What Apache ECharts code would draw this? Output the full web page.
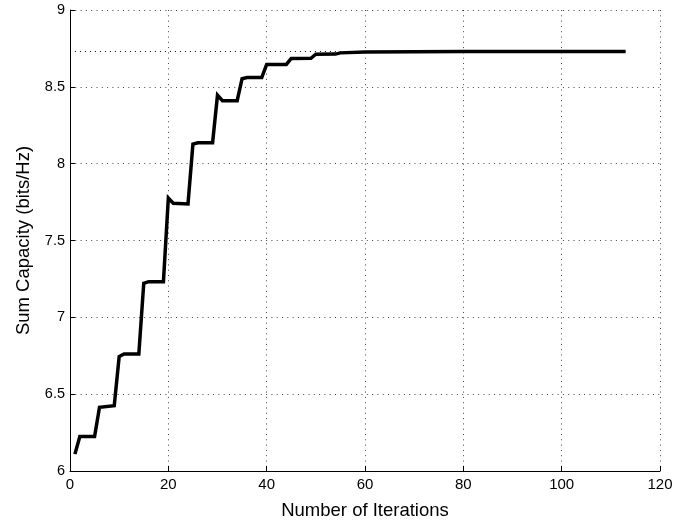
<!DOCTYPE html>
<html>
<head>
<meta charset="utf-8">
<script src="https://cdn.jsdelivr.net/npm/echarts@6/dist/echarts.min.js"></script>
<style>html,body{margin:0;padding:0;background:#fff;}#c{width:687px;height:525px;}</style>
</head>
<body>
<div id="c"></div>
<script>
var iterations = [1, 2, 5, 6, 9, 10, 11, 14, 15, 16, 19, 20, 21, 24, 25, 26, 29, 30, 31, 34, 35, 36, 39, 40, 44, 45, 49, 50, 54, 55, 60, 70, 80, 113];
var capacity = [6.11, 6.225, 6.225, 6.415, 6.425, 6.745, 6.762, 6.762, 7.222, 7.232, 7.232, 7.776, 7.742, 7.738, 8.127, 8.136, 8.136, 8.446, 8.41, 8.41, 8.553, 8.56, 8.56, 8.646, 8.646, 8.685, 8.686, 8.712, 8.713, 8.721, 8.726, 8.729, 8.73, 8.73];
var optimumX = [1, 113];
var optimumY = [8.73, 8.73];
var xTicks = [0, 20, 40, 60, 80, 100, 120];
var yTicks = [6, 6.5, 7, 7.5, 8, 8.5, 9];

var font = 'Liberation Sans, Arial, sans-serif';
var gridStyle = { show: true, lineStyle: { color: '#444', width: 1, type: [1, 4.3] } };

var chart = echarts.init(document.getElementById('c'), null, { renderer: 'canvas' });
chart.setOption({
  animation: false,
  backgroundColor: '#fff',
  grid: { left: 70, right: 27, top: 10, bottom: 51, containLabel: false },
  xAxis: {
    type: 'value', min: xTicks[0], max: xTicks[xTicks.length - 1], interval: 20,
    name: 'Number of Iterations', nameLocation: 'middle', nameGap: 30,
    nameTextStyle: { fontFamily: font, fontSize: 18.5, color: '#000' },
    axisLine: { show: true, onZero: false, lineStyle: { color: '#000', width: 1 } },
    axisTick: { show: true, inside: true, length: 5, lineStyle: { color: '#000' } },
    axisLabel: { fontFamily: font, fontSize: 15, color: '#000', margin: 6 },
    splitLine: gridStyle
  },
  yAxis: {
    type: 'value', min: yTicks[0], max: yTicks[yTicks.length - 1], interval: 0.5,
    name: 'Sum Capacity (bits/Hz)', nameLocation: 'middle', nameGap: 37,
    nameTextStyle: { fontFamily: font, fontSize: 18.5, color: '#000' },
    axisLine: { show: true, onZero: false, lineStyle: { color: '#000', width: 1 } },
    axisTick: { show: true, inside: true, length: 5, lineStyle: { color: '#000' } },
    axisLabel: { fontFamily: font, fontSize: 14.5, color: '#000', margin: 5 },
    splitLine: gridStyle
  },
  series: [
    {
      type: 'line', name: 'optimum',
      data: optimumX.map(function (x, i) { return [x, optimumY[i]]; }),
      showSymbol: false, silent: true, z: 1,
      lineStyle: { color: '#000', width: 1, type: [1, 4] }
    },
    {
      type: 'line', name: 'capacity',
      data: iterations.map(function (x, i) { return [x, capacity[i]]; }),
      showSymbol: false, z: 2,
      lineStyle: { color: '#000', width: 3.5, join: 'miter' }
    }
  ]
});
</script>
</body>
</html>
